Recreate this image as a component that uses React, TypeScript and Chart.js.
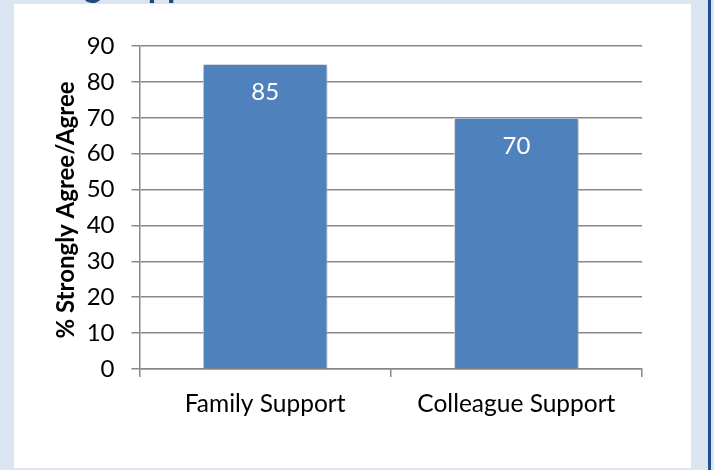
import { useEffect, useRef } from 'react';
import { Chart, registerables } from 'chart.js';

Chart.register(...registerables);

const categories = ['Family Support', 'Colleague Support'];
const values = [85, 70];
const yMin = 0;
const yMax = 90;
const yStep = 10;
const yTitle = '% Strongly Agree/Agree';
const topTitle = 'g Support';

const FONT = 'Lato, "Open Sans", sans-serif';

export default function App() {
  const ref = useRef<HTMLCanvasElement>(null);

  useEffect(() => {
    document.body.style.margin = '0';
    const canvas = ref.current!;

    const background = {
      id: 'background',
      beforeDraw(chart: any) {
        const { ctx, width, height } = chart;
        ctx.save();
        ctx.fillStyle = '#dbe5f1';
        ctx.fillRect(0, 0, width, height);
        ctx.fillStyle = '#ffffff';
        ctx.fillRect(14, 4, 677, 464);
        ctx.fillStyle = '#1f4e89';
        ctx.fillRect(708, 0, 3, height);
        ctx.font = `bold 34px ${FONT}`;
        ctx.fillStyle = '#1f497d';
        ctx.textAlign = 'left';
        ctx.textBaseline = 'alphabetic';
        ctx.fillText(topTitle, 84, -3);
        ctx.restore();
      },
    };

    const barShadow = {
      id: 'barShadow',
      beforeDatasetsDraw(chart: any) {
        const { ctx } = chart;
        ctx.save();
        ctx.shadowColor = 'rgba(0,0,0,0.35)';
        ctx.shadowBlur = 4;
        ctx.shadowOffsetX = 1;
        ctx.shadowOffsetY = 1;
      },
      afterDatasetsDraw(chart: any) {
        chart.ctx.restore();
      },
    };

    const labels = {
      id: 'labels',
      afterDraw(chart: any) {
        const { ctx } = chart;
        ctx.save();
        const meta = chart.getDatasetMeta(0);
        ctx.font = `24px ${FONT}`;
        ctx.fillStyle = '#ffffff';
        ctx.textAlign = 'center';
        ctx.textBaseline = 'middle';
        meta.data.forEach((el: any, i: number) => {
          ctx.fillText(String(values[i]), el.x, el.y + 28);
        });
        ctx.translate(66, 210);
        ctx.rotate(-Math.PI / 2);
        ctx.font = `bold 24px ${FONT}`;
        ctx.fillStyle = '#000000';
        ctx.fillText(yTitle, 0, 0);
        ctx.restore();
      },
    };

    const chart = new Chart(canvas, {
      type: 'bar',
      data: {
        labels: categories,
        datasets: [
          {
            data: values,
            backgroundColor: '#4f81bd',
            borderColor: '#e6ebf2',
            borderWidth: 1,
            barPercentage: 0.496,
            categoryPercentage: 1,
          },
        ],
      },
      options: {
        animation: false,
        responsive: true,
        maintainAspectRatio: false,
        layout: { padding: { top: 46, right: 72, bottom: 51, left: 0 } },
        plugins: {
          legend: { display: false },
          tooltip: { enabled: false },
          title: { display: false },
        },
        scales: {
          x: {
            offset: true,
            afterFit: (s: any) => {
              s.height = 50;
            },
            grid: {
              offset: true,
              drawOnChartArea: false,
              drawTicks: true,
              tickLength: 8,
              color: '#888888',
              lineWidth: 1.5,
            },
            border: { color: '#888888', width: 1.5 },
            ticks: {
              color: '#000000',
              font: { family: FONT, size: 24.5 },
              padding: 12,
              maxRotation: 0,
            },
          },
          y: {
            min: yMin,
            max: yMax,
            afterFit: (s: any) => {
              s.width = 139.5;
            },
            grid: {
              color: '#888888',
              lineWidth: 1.5,
              drawTicks: true,
              tickLength: 8,
            },
            border: { color: '#888888', width: 1.5 },
            ticks: {
              stepSize: yStep,
              color: '#000000',
              font: { family: FONT, size: 24 },
              padding: 17,
            },
          },
        },
      },
      plugins: [background, barShadow, labels],
    });

    return () => chart.destroy();
  }, []);

  return (
    <div style={{ position: 'fixed', left: 0, top: 0, width: 714, height: 470 }}>
      <canvas ref={ref} />
    </div>
  );
}
